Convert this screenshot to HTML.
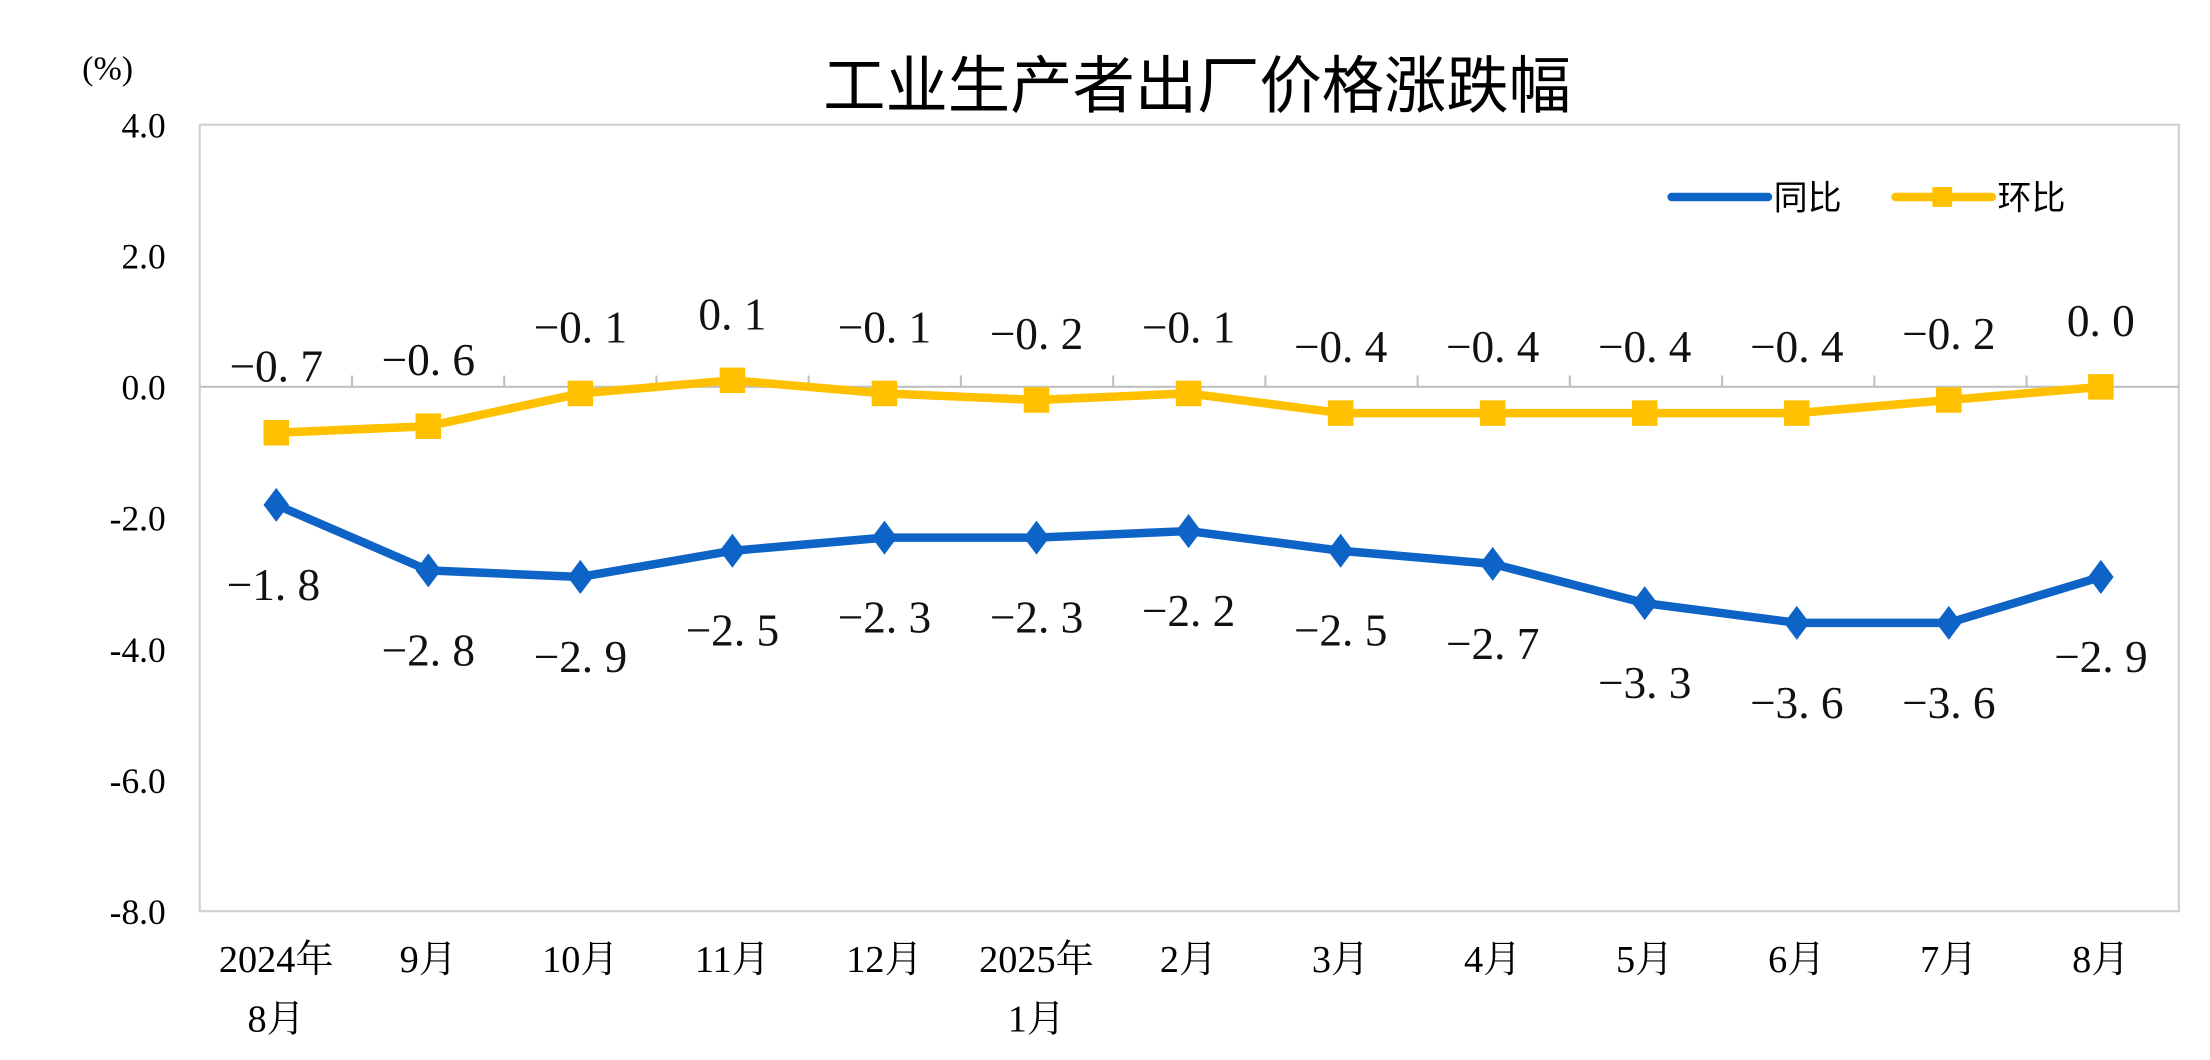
<!DOCTYPE html>
<html><head><meta charset="utf-8"><style>
html,body{margin:0;padding:0;background:#fff;}
svg{display:block;}
</style></head><body>
<svg id="c" width="2210" height="1060" viewBox="0 0 1560 748" preserveAspectRatio="none" xmlns="http://www.w3.org/2000/svg">
<rect width="1560" height="748" fill="#fff"/>
<text x="845" y="76" font-family="'Noto Sans CJK SC',sans-serif" font-size="44" text-anchor="middle" fill="#000">工业生产者出厂价格涨跌幅</text>
<text x="58" y="56" font-family="'Liberation Serif',serif" font-size="24" fill="#000">(%)</text>
<rect x="141" y="88" width="1397" height="555" fill="none" stroke="#d0d0d0" stroke-width="1.5"/>
<g id="g"></g>
</svg>
<script>
var g=document.getElementById('g'),s='';
var y0=273,k=46.25;function Y(v){return y0-v*k;}function X(i){return 195+i*107.33;}
var yl=['4.0','2.0','0.0','-2.0','-4.0','-6.0','-8.0'];
for(var i=0;i<7;i++){s+='<text x="117" y="'+(Y(4-2*i)+9)+'" font-family="Liberation Serif,serif" font-size="25" text-anchor="end">'+yl[i]+'</text>';}
s+='<line x1="141" y1="273" x2="1538" y2="273" stroke="#c0c0c0" stroke-width="1.5"/>';
for(var i=1;i<13;i++){var x=141+i*107.46;s+='<line x1="'+x+'" y1="273" x2="'+x+'" y2="265" stroke="#c0c0c0" stroke-width="1.5"/>';}
var xl=['2024年','9月','10月','11月','12月','2025年','2月','3月','4月','5月','6月','7月','8月'];
for(var i=0;i<13;i++){s+='<text x="'+X(i)+'" y="686" font-family="Liberation Serif,Noto Serif CJK SC,serif" font-size="27" text-anchor="middle">'+xl[i]+'</text>';}
s+='<text x="'+X(0)+'" y="728" font-family="Liberation Serif,Noto Serif CJK SC,serif" font-size="27" text-anchor="middle">8月</text>';
s+='<text x="'+X(5)+'" y="728" font-family="Liberation Serif,Noto Serif CJK SC,serif" font-size="27" text-anchor="middle">1月</text>';
var b=[-1.8,-2.8,-2.9,-2.5,-2.3,-2.3,-2.2,-2.5,-2.7,-3.3,-3.6,-3.6,-2.9];
var yv=[-0.7,-0.6,-0.1,0.1,-0.1,-0.2,-0.1,-0.4,-0.4,-0.4,-0.4,-0.2,0.0];
function pts(a){return a.map(function(v,i){return X(i)+','+Y(v)}).join(' ');}
s+='<polyline points="'+pts(yv)+'" fill="none" stroke="#FFC000" stroke-width="6" stroke-linejoin="round"/>';
s+='<polyline points="'+pts(b)+'" fill="none" stroke="#0E63C6" stroke-width="6" stroke-linejoin="round"/>';
yv.forEach(function(v,i){s+='<rect x="'+(X(i)-9)+'" y="'+(Y(v)-9)+'" width="18" height="18" fill="#FFC000"/>';});
b.forEach(function(v,i){var x=X(i),y=Y(v);s+='<polygon points="'+x+','+(y-12)+' '+(x+9)+','+y+' '+x+','+(y+12)+' '+(x-9)+','+y+'" fill="#0E63C6"/>';});
function lab(v){var t=v.toFixed(1);return t.replace('-','−').replace('.','. ');}
var fs='font-family="Liberation Serif,serif" font-size="32" text-anchor="middle" fill="#111" style="white-space:pre"';
yv.forEach(function(v,i){s+='<text x="'+X(i)+'" y="'+(Y(v)-36)+'" '+fs+'>'+lab(v)+'</text>';});
b.forEach(function(v,i){var lx=X(i);if(i==0)lx=X(0)-2;s+='<text x="'+lx+'" y="'+(Y(v)+67)+'" '+fs+'>'+lab(v)+'</text>';});
s+='<line x1="1180" y1="139" x2="1248" y2="139" stroke="#0E63C6" stroke-width="6" stroke-linecap="round"/>';
s+='<text x="1252" y="148" font-family="Noto Sans CJK SC,sans-serif" font-size="24">同比</text>';
s+='<line x1="1338" y1="139" x2="1406" y2="139" stroke="#FFC000" stroke-width="6" stroke-linecap="round"/><rect x="1364" y="132" width="14" height="14" fill="#FFC000"/>';
s+='<text x="1410" y="148" font-family="Noto Sans CJK SC,sans-serif" font-size="24">环比</text>';
g.innerHTML=s;
</script>
</body></html>
